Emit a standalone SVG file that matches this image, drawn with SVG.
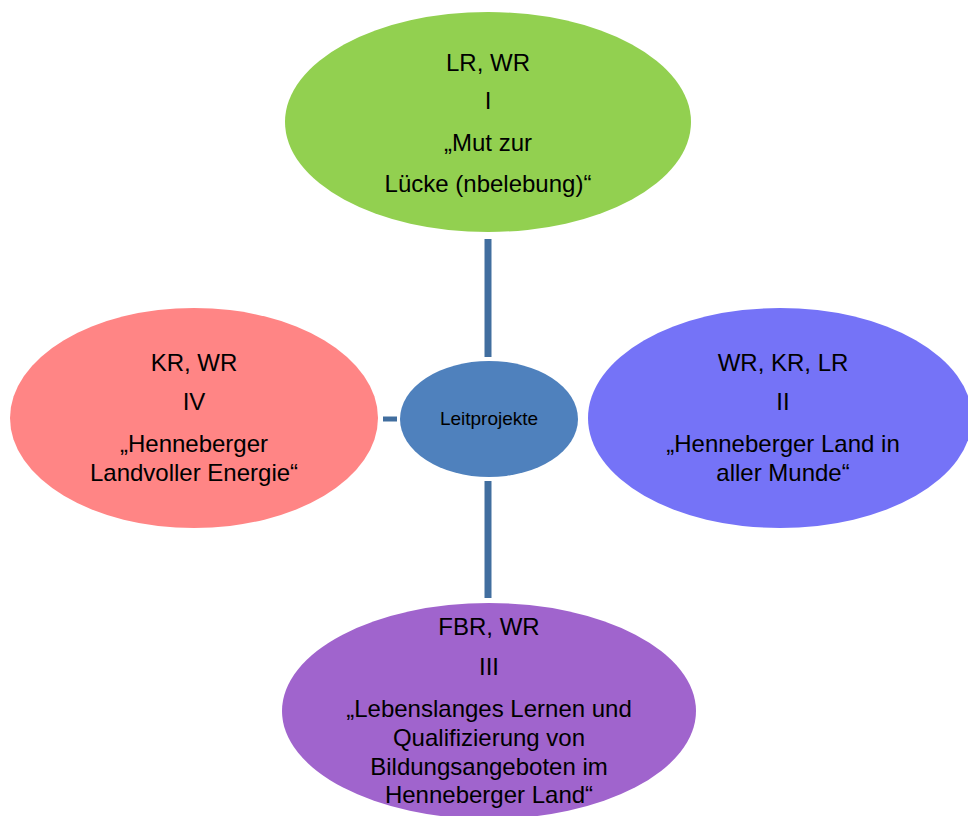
<svg xmlns="http://www.w3.org/2000/svg" width="968" height="816" viewBox="0 0 968 816">
<style>
.t{font-family:"Liberation Sans",Arial,sans-serif;font-size:24px;fill:#000;text-anchor:middle}
.c{font-family:"Liberation Sans",Arial,sans-serif;font-size:19px;fill:#000;text-anchor:middle}
.ln{stroke:#416e9f;fill:none}
</style>
<rect width="968" height="816" fill="#fff"/>
<g id="connectors">
<line class="ln" x1="488" y1="239" x2="488" y2="357" stroke-width="7"/>
<line class="ln" x1="488" y1="481" x2="488" y2="598" stroke-width="7"/>
<line class="ln" x1="383" y1="419" x2="397" y2="419" stroke-width="5"/>
<line class="ln" x1="591" y1="419" x2="593" y2="419" stroke-width="5"/>
</g>
<g id="node-top">
<ellipse cx="488" cy="122" rx="203" ry="110" fill="#92d050"/>
<text class="t" x="488" y="71">LR, WR</text>
<text class="t" x="488" y="109">I</text>
<text class="t" x="488" y="151">„Mut zur</text>
<text class="t" x="488" y="192">Lücke (nbelebung)“</text>
</g>
<g id="node-center">
<ellipse cx="489" cy="419" rx="89" ry="58" fill="#4f81bd"/>
<text class="c" x="489" y="425">Leitprojekte</text>
</g>
<g id="node-left">
<ellipse cx="194" cy="418" rx="184" ry="110" fill="#ff8585"/>
<text class="t" x="194" y="371">KR, WR</text>
<text class="t" x="194" y="410">IV</text>
<text class="t" x="194" y="452">„Henneberger</text>
<text class="t" x="194" y="481">Landvoller Energie“</text>
</g>
<g id="node-right">
<ellipse cx="780" cy="418" rx="192" ry="110" fill="#7573f7"/>
<text class="t" x="783" y="371">WR, KR, LR</text>
<text class="t" x="783" y="410">II</text>
<text class="t" x="783" y="452">„Henneberger Land in</text>
<text class="t" x="783" y="481">aller Munde“</text>
</g>
<g id="node-bottom">
<ellipse cx="489" cy="711" rx="207" ry="108" fill="#a064cd"/>
<text class="t" x="489" y="635">FBR, WR</text>
<text class="t" x="489" y="675">III</text>
<text class="t" x="489" y="717">„Lebenslanges Lernen und</text>
<text class="t" x="489" y="746">Qualifizierung von</text>
<text class="t" x="489" y="775">Bildungsangeboten im</text>
<text class="t" x="489" y="803">Henneberger Land“</text>
</g>
</svg>
